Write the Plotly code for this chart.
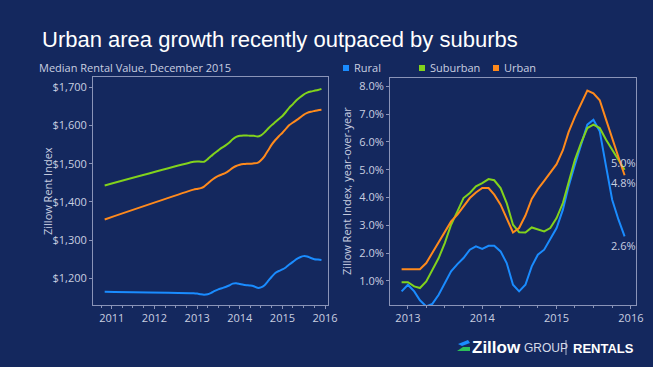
import plotly.graph_objects as go

# ---------------- data ----------------
# Left chart: Zillow Rent Index (monthly, with an early anchor point)
left_dates = ["2010-11-01"] + [f"{y}-{m:02d}-01" for y, m in
              [(2012, 12)] + [(yy, mm) for yy in (2013, 2014, 2015) for mm in range(1, 13)]]
zri_suburban = [1443,
                1505, 1506, 1505, 1505, 1512, 1520, 1528, 1535, 1542, 1548, 1555, 1564, 1570,
                1573, 1574, 1574, 1573, 1573, 1571, 1574, 1582, 1592, 1601, 1609, 1617,
                1625, 1636, 1647, 1656, 1666, 1674, 1681, 1686, 1689, 1691, 1693, 1696]
zri_urban = [1354,
             1432, 1434, 1436, 1440, 1448, 1456, 1463, 1468, 1472, 1476, 1482, 1489, 1494,
             1497, 1499, 1500, 1500, 1501, 1502, 1509, 1520, 1535, 1550, 1562, 1572,
             1581, 1592, 1601, 1608, 1614, 1621, 1628, 1633, 1636, 1638, 1640, 1641]
zri_rural = [1165,
             1161, 1160, 1158, 1157, 1158, 1162, 1167, 1171, 1174, 1177, 1181, 1186, 1187,
             1185, 1183, 1182, 1181, 1179, 1175, 1176, 1182, 1193, 1204, 1214, 1219,
             1223, 1229, 1236, 1243, 1250, 1255, 1258, 1257, 1253, 1250, 1249, 1248]

# Right chart: year-over-year change (%), Dec 2012 - Dec 2015
right_dates = ["2012-12-01"] + [f"{yy}-{mm:02d}-01" for yy in (2013, 2014, 2015) for mm in range(1, 13)]
yoy_rural = [0.62, 0.86, 0.62, 0.30, 0.08, 0.17, 0.50, 0.92, 1.34, 1.60, 1.82, 2.12, 2.24,
             2.15, 2.26, 2.26, 2.06, 1.64, 0.86, 0.62, 0.86, 1.52, 1.94, 2.12, 2.48,
             2.90, 3.56, 4.40, 5.18, 5.90, 6.62, 6.80, 6.38, 5.12, 3.92, 3.20, 2.60]
yoy_suburban = [0.95, 0.95, 0.80, 0.74, 0.98, 1.40, 1.82, 2.36, 3.02, 3.50, 3.98, 4.16, 4.40,
                4.52, 4.66, 4.62, 4.34, 3.80, 3.02, 2.75, 2.74, 2.92, 2.86, 2.78, 2.90,
                3.26, 3.80, 4.58, 5.36, 5.96, 6.50, 6.62, 6.50, 6.08, 5.74, 5.36, 5.00]
yoy_urban = [1.42, 1.42, 1.42, 1.42, 1.64, 2.00, 2.42, 2.78, 3.14, 3.38, 3.68, 3.98, 4.18,
             4.34, 4.34, 4.10, 3.74, 3.26, 2.74, 2.90, 3.35, 3.95, 4.30, 4.60, 4.90,
             5.20, 5.70, 6.35, 6.90, 7.40, 7.85, 7.75, 7.50, 6.80, 6.10, 5.45, 4.80]

series_names = ["Rural", "Suburban", "Urban"]
left_ticks = ["$1,200", "$1,300", "$1,400", "$1,500", "$1,600", "$1,700"]
left_tickvals = [1200, 1300, 1400, 1500, 1600, 1700]
right_ticks = ["1.0%", "2.0%", "3.0%", "4.0%", "5.0%", "6.0%", "7.0%", "8.0%"]
right_tickvals = [1, 2, 3, 4, 5, 6, 7, 8]
title_text = "Urban area growth recently outpaced by suburbs"
subtitle_text = "Median Rental Value, December 2015"
left_ytitle = "Zillow Rent Index"
right_ytitle = "Zillow Rent Index, year-over-year"

# ---------------- style ----------------
BG = "#14285e"
COLORS = {"Rural": "#1a8cff", "Suburban": "#82d31c", "Urban": "#ff8a1c"}
TXT = "#c9cfe0"
AX = "#8a94b8"
FONT = "Open Sans"
W, H = 653, 367

fig = go.Figure()

left_vals = {"Rural": zri_rural, "Suburban": zri_suburban, "Urban": zri_urban}
right_vals = {"Rural": yoy_rural, "Suburban": yoy_suburban, "Urban": yoy_urban}

for name in series_names:
    fig.add_trace(go.Scatter(x=left_dates, y=left_vals[name], mode="lines", name=name,
                             line=dict(color=COLORS[name], width=2, shape="spline", smoothing=0.6),
                             showlegend=False, xaxis="x", yaxis="y"))
for name in series_names:
    fig.add_trace(go.Scatter(x=right_dates, y=right_vals[name], mode="lines", name=name,
                             line=dict(color=COLORS[name], width=2),
                             showlegend=False, xaxis="x2", yaxis="y2"))

def px_x(p):
    return p / W

def px_y(p):
    return 1 - p / H

axis_common = dict(showgrid=False, zeroline=False, showline=True, linecolor=AX, linewidth=1,
                   mirror=True, ticks="outside", ticklen=3, tickcolor=AX, automargin=False,
                   tickfont=dict(color=TXT, size=11, family=FONT))

fig.update_layout(
    width=W, height=H,
    margin=dict(l=0, r=0, t=0, b=0, autoexpand=False),
    paper_bgcolor=BG, plot_bgcolor=BG,
    font=dict(family=FONT, color=TXT),
    xaxis=dict(domain=[px_x(93), px_x(328)], type="date",
               range=["2010-07-24", "2016-01-26"], dtick="M12", tick0="2011-01-01",
               tickformat="%Y", minor=dict(ticks="outside", ticklen=2, dtick="M3", tickcolor=AX),
               anchor="y", **axis_common),
    yaxis=dict(domain=[px_y(305), px_y(77)], range=[1130, 1727],
               tickvals=left_tickvals, ticktext=left_ticks, anchor="x",
               **axis_common),
    xaxis2=dict(domain=[px_x(390), px_x(636)], type="date",
                range=["2012-10-05", "2016-01-26"], dtick="M12", tick0="2013-01-01",
                tickformat="%Y", minor=dict(ticks="outside", ticklen=2, dtick="M3", tickcolor=AX),
                anchor="y2", **axis_common),
    yaxis2=dict(domain=[px_y(305), px_y(78)], range=[0.13, 8.3],
                tickvals=right_tickvals, ticktext=right_ticks, anchor="x2",
                **axis_common),
)

ann = []
ann.append(dict(x=px_x(40), y=px_y(39), xref="paper", yref="paper", xanchor="left", yanchor="middle",
                text=title_text, showarrow=False,
                font=dict(family="Liberation Sans", size=22, color="#ffffff")))
ann.append(dict(x=px_x(37), y=px_y(68), xref="paper", yref="paper", xanchor="left", yanchor="middle",
                text=subtitle_text, showarrow=False,
                font=dict(family=FONT, size=11, color=TXT)))
# axis titles
ann.append(dict(x=px_x(47), y=px_y(191), xref="paper", yref="paper", xanchor="center", yanchor="middle",
                text=left_ytitle, textangle=-90, showarrow=False,
                font=dict(family=FONT, size=11, color=TXT)))
ann.append(dict(x=px_x(346), y=px_y(191), xref="paper", yref="paper", xanchor="center", yanchor="middle",
                text=right_ytitle, textangle=-90, showarrow=False,
                font=dict(family=FONT, size=11, color=TXT)))

# legend (manual)
legend_x = {"Rural": 343, "Suburban": 419, "Urban": 493}
shapes = []
for name in series_names:
    lx = legend_x[name]
    shapes.append(dict(type="rect", xref="paper", yref="paper",
                       x0=px_x(lx), x1=px_x(lx + 6), y0=px_y(71), y1=px_y(65),
                       fillcolor=COLORS[name], line=dict(width=0)))
    ann.append(dict(x=px_x(lx + 9), y=px_y(68), xref="paper", yref="paper", xanchor="left",
                    yanchor="middle", text=name, showarrow=False,
                    font=dict(family=FONT, size=11, color=TXT)))

# end labels on right chart
label_pos = {"Suburban": 162, "Urban": 182, "Rural": 245}
for name in ["Suburban", "Urban", "Rural"]:
    ann.append(dict(x=px_x(623), y=px_y(label_pos[name]), xref="paper", yref="paper",
                    xanchor="center", yanchor="middle",
                    text=f"{right_vals[name][-1]:.1f}%", showarrow=False,
                    font=dict(family=FONT, size=11, color=TXT)))

# logo
shapes.append(dict(type="path", xref="paper", yref="paper",
                   path=f"M {px_x(458)} {px_y(344)} L {px_x(468)} {px_y(340)} L {px_x(470)} {px_y(343)} L {px_x(462)} {px_y(346)} Z",
                   fillcolor="#1a8cff", line=dict(width=0)))
shapes.append(dict(type="path", xref="paper", yref="paper",
                   path=f"M {px_x(457)} {px_y(351)} L {px_x(463)} {px_y(347)} L {px_x(470)} {px_y(347)} L {px_x(470)} {px_y(351)} Z",
                   fillcolor="#2dbf5a", line=dict(width=0)))
ann.append(dict(x=px_x(470), y=px_y(347), xref="paper", yref="paper", xanchor="left", yanchor="middle",
                text="<b>Zillow</b>", showarrow=False,
                font=dict(family="Liberation Sans", size=17, color="#ffffff")))
ann.append(dict(x=px_x(522), y=px_y(348), xref="paper", yref="paper", xanchor="left", yanchor="middle",
                text="GROUP", showarrow=False,
                font=dict(family="Liberation Sans", size=12, color="#d6dbe8")))
shapes.append(dict(type="line", xref="paper", yref="paper", x0=px_x(566), x1=px_x(566),
                   y0=px_y(340), y1=px_y(355), line=dict(color="#aab3cc", width=1)))
ann.append(dict(x=px_x(571), y=px_y(348), xref="paper", yref="paper", xanchor="left", yanchor="middle",
                text="<b>RENTALS</b>", showarrow=False,
                font=dict(family="Liberation Sans", size=13, color="#ffffff")))

fig.update_layout(annotations=ann, shapes=shapes)

fig.write_html("out.html", config={"displayModeBar": False},
               post_script="document.body.style.margin='0';document.body.style.background='" + BG + "';")
